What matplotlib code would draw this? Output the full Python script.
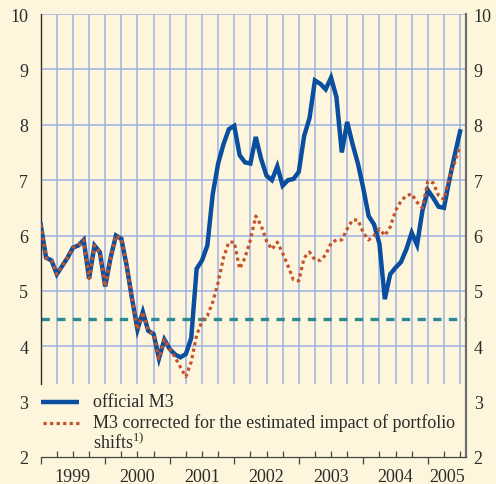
import numpy as np
import matplotlib
matplotlib.use("Agg")
import matplotlib.pyplot as plt
from matplotlib.transforms import blended_transform_factory

plt.rcParams['font.family'] = ['Liberation Serif', 'DejaVu Serif']
plt.rcParams['mathtext.fontset'] = 'custom'
plt.rcParams['mathtext.rm'] = 'Liberation Serif'

# monthly annual growth rates, Jan 1999 .. Jul 2005 (month index 0..78)
official_m3 = [
    6.20, 5.60, 5.55, 5.30, 5.45, 5.60, 5.78, 5.82, 5.92, 5.22, 5.82, 5.70,   # 1999
    5.08, 5.60, 6.00, 5.94, 5.45, 4.85, 4.30, 4.62, 4.28, 4.22, 3.78, 4.12,   # 2000
    3.95, 3.85, 3.80, 3.86, 4.15, 5.40, 5.55, 5.82, 6.75, 7.30, 7.65, 7.92,   # 2001
    7.98, 7.45, 7.32, 7.30, 7.78, 7.38, 7.08, 7.00, 7.25, 6.90, 7.00, 7.02,   # 2002
    7.15, 7.80, 8.12, 8.80, 8.74, 8.64, 8.85, 8.50, 7.50, 8.05, 7.65, 7.30,   # 2003
    6.85, 6.35, 6.20, 5.85, 4.85, 5.30, 5.42, 5.52, 5.75, 6.05, 5.83, 6.45,   # 2004
    6.82, 6.68, 6.52, 6.50, 7.00, 7.45, 7.88,                                 # 2005
]
corrected_m3 = [
    6.20, 5.60, 5.55, 5.30, 5.45, 5.60, 5.78, 5.82, 5.92, 5.22, 5.82, 5.70,
    5.08, 5.60, 6.00, 5.94, 5.45, 4.85, 4.30, 4.62, 4.28, 4.22, 3.78, 4.12,
    3.95, 3.80, 3.62, 3.45, 3.72, 4.20, 4.45, 4.55, 4.80, 5.15, 5.60, 5.88,
    5.88, 5.40, 5.60, 5.92, 6.35, 6.18, 5.90, 5.75, 5.88, 5.68, 5.45, 5.20,
    5.18, 5.60, 5.70, 5.56, 5.55, 5.65, 5.86, 5.92, 5.92, 6.12, 6.28, 6.28,
    6.05, 5.92, 6.00, 6.12, 6.00, 6.15, 6.45, 6.62, 6.72, 6.75, 6.60, 6.50,
    6.98, 6.95, 6.72, 6.65, 7.05, 7.32, 7.62,
]
reference_value = 4.5
years = [1999, 2000, 2001, 2002, 2003, 2004, 2005]
labels = ["official M3",
          "M3 corrected for the estimated impact of portfolio\nshifts$^{\\mathrm{1)}}$"]

BG = "#FDF6DC"
GRID = "#9FB2E2"
BLUE = "#0A4E9F"
RED = "#C4522B"
TEAL = "#2B8A93"
TXT = "#2b2b2b"
FS = 13

months = np.arange(len(official_m3))
x_end = 79.1

fig = plt.figure(figsize=(4.96, 4.85), dpi=100, facecolor=BG)
ax = fig.add_axes([40.7 / 496, 1 - 458 / 485, (466 - 40.7) / 496, 443 / 485])
ax.set_facecolor(BG)
ax.set_xlim(0, x_end)
ax.set_ylim(2, 10)

# grid: horizontal 4..10, vertical every quarter down to the legend area
ax.hlines(np.arange(4, 11), 0, x_end, color=GRID, lw=1.1, zorder=1)
ax.vlines(np.arange(3, 79, 3), 3.32, 10, color=GRID, lw=1.1, zorder=1)

ax.axhline(reference_value, color=TEAL, lw=2.4, ls=(0, (2.5, 2.2)), zorder=2)
ax.plot(months, official_m3, color=BLUE, lw=3.2, solid_joinstyle="miter", zorder=3)
ax.plot(months, corrected_m3, color=RED, lw=2.3, ls=(0, (1, 1.05)), zorder=4)

# spines
ax.spines["top"].set_visible(False)
ax.spines["left"].set_bounds(3.32, 10)
ax.spines["left"].set_color("#3a2d2d")
ax.spines["left"].set_linewidth(1.0)
ax.spines["right"].set_color("#6e6e6e")
ax.spines["right"].set_linewidth(1.6)
ax.spines["bottom"].set_color("#444444")
ax.spines["bottom"].set_linewidth(0.9)

ax.set_yticks(range(2, 11))
ax.tick_params(axis="y", length=0, labelsize=FS, labelcolor=TXT, pad=9)

# right-hand labels on a twin so they get their own padding
axr = ax.twinx()
axr.set_ylim(ax.get_ylim())
axr.set_yticks(range(2, 11))
axr.tick_params(axis="y", length=0, labelsize=FS, labelcolor=TXT, pad=5.5)
for s in axr.spines.values():
    s.set_visible(False)

ax.set_xticks([12 * i for i in range(len(years))])
ax.set_xticklabels([])
ax.set_xticks([q for q in range(3, 79, 3) if q % 12], minor=True)
ax.tick_params(axis="x", which="major", direction="out", length=5,
               width=0.9, color="#444444")
ax.tick_params(axis="x", which="minor", direction="in", length=4,
               width=0.9, color="#444444")

trans = blended_transform_factory(ax.transData, ax.transAxes)
for i, yr in enumerate(years):
    xc = min(12 * i + 6, (12 * i + x_end) / 2)
    ax.text(xc, -0.025, str(yr), transform=trans, ha="center", va="top",
            fontsize=FS, color=TXT)

# legend drawn by hand so the key sits on the first text line
ax.plot([0, 7.1], [3.0, 3.0], color=BLUE, lw=3.2, clip_on=False,
        solid_capstyle="butt")
ax.text(9.7, 3.0, labels[0], ha="left", va="center", fontsize=FS, color=TXT)
ax.plot([0.4, 7.1], [2.62, 2.62], color=RED, lw=2.3, ls=(0, (1, 1.05)),
        clip_on=False)
ax.text(9.7, 2.79, labels[1], ha="left", va="top", fontsize=FS,
        color=TXT, linespacing=0.98)

fig.savefig("out.png", dpi=100, facecolor=BG)
